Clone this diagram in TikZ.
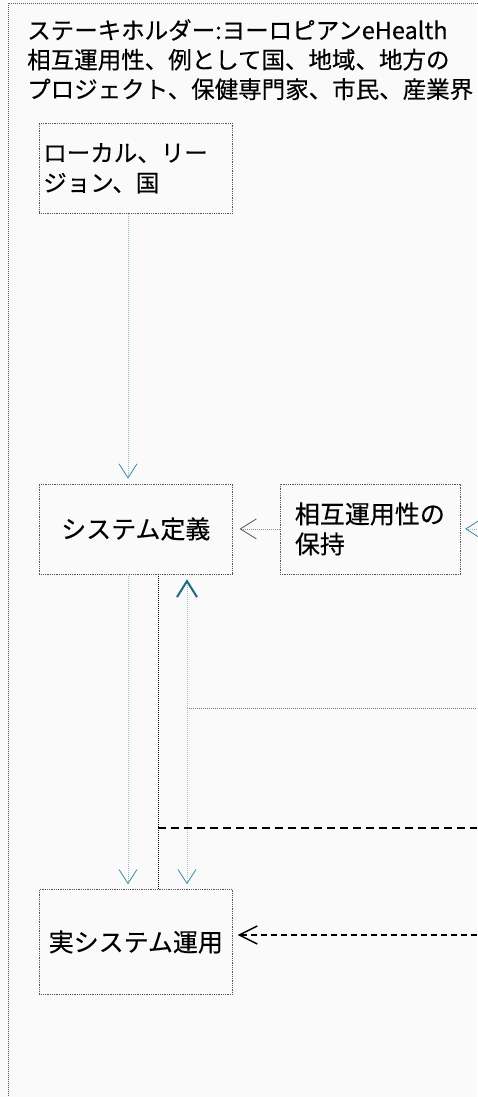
\documentclass[tikz,border=0pt]{standalone}
\usepackage{fontspec}
\setmainfont{Noto Sans CJK JP}[FakeBold=0.3]
\usetikzlibrary{arrows.meta, positioning, calc}
\definecolor{boxgray}{HTML}{555555}
\definecolor{linkblue}{HTML}{9DBFCB}
\definecolor{tipteal}{HTML}{3A8AA2}
\definecolor{darkteal}{HTML}{1E6A80}
\tikzstyle{block} = [rectangle, 
			draw = boxgray, 
			dash pattern = on 1pt off 0.8pt, 
			line width = 0.6pt, 
			minimum width = 193pt, 
			minimum height = 90pt, 
			inner sep = 4pt, 
			font = \fontsize{25}{30}\selectfont]
\tikzstyle{link} = [draw = linkblue, 
			dash pattern = on 1pt off 1pt, 
			line width = 0.6pt, 
			shorten > = 5pt, 
			-{Straight Barb[length=14pt, width=18pt, line width=0.8pt, color=tipteal]}]
\tikzstyle{uplink} = [link, -{Straight Barb[length=16pt, width=20pt, line width=2pt, color=darkteal]}]
\tikzstyle{graylink} = [draw = boxgray!70, 
			dash pattern = on 1pt off 1pt, 
			line width = 0.6pt, 
			shorten > = 7pt, 
			-{Straight Barb[length=16pt, width=20pt, line width=0.8pt, color=boxgray]}]
\tikzstyle{grayline} = [draw = boxgray!80, dash pattern = on 1pt off 1pt, line width = 0.7pt]
\tikzstyle{blackdot} = [draw = black, dash pattern = on 1pt off 1pt, line width = 0.9pt]
\tikzstyle{bigdash} = [draw = black, dash pattern = on 8pt off 5pt, line width = 2pt]
\tikzstyle{dasharrow} = [draw = black, dash pattern = on 6pt off 4pt, line width = 1.5pt, 
			shorten > = 5pt, 
			-{Straight Barb[length=18pt, width=18pt, line width=1.5pt]}]

\begin{document}
\begin{tikzpicture}[node distance = 3em, auto]
	\useasboundingbox (0,0) rectangle (477pt,-1097pt);
	\fill[black!2] (0,0) rectangle (477pt,-1097pt);
	\draw[grayline, draw = boxgray] (8pt,-1100pt) |- (480pt,-3pt);
	\node [anchor=north west, align=left, inner sep=0pt, 
		font=\fontsize{23.5}{29.5}\selectfont] (stakeholder) at (27pt,-19pt)
		{ステーキホルダー:ヨーロピアンeHealth\\相互運用性、例として国、地域、地方の\\プロジェクト、保健専門家、市民、産業界};
	\node [block, anchor=north west, text width=185pt, align=left, 
		font=\fontsize{23.5}{30}\selectfont] (local) at (39pt,-123pt) {ローカル、リー\\ジョン、国};
	\node [block, below=270pt of local] (sysdef) {システム定義};
	\node [block, right=47pt of sysdef, minimum width=180pt, align=left] (keep) {相互運用性の\\保持};
	\node [block, below=315pt of sysdef, minimum height=105pt] (realop) {実システム運用};
	% lanes
	\coordinate (laneA) at (128pt,0);
	\coordinate (laneB) at (158pt,0);
	\coordinate (laneC) at (187pt,0);
	\coordinate (edgeR) at (477pt,0);
	\coordinate (feedback) at (187pt,-708pt);
	\coordinate (control) at (158pt,-828pt);
	\coordinate (opin) at (477pt,-935pt);
	\path [link] (local.south -| laneA) -- (sysdef.north -| laneA);
	\path [graylink] (keep.west) -- (sysdef.east);
	\path [link] (keep.east -| edgeR) -- (keep.east);
	\path [link] (sysdef.south -| laneA) -- (realop.north -| laneA);
	\draw [blackdot] (sysdef.south -| laneB) -- (realop.north -| laneB);
	\draw [grayline] (feedback) -- (feedback -| edgeR);
	\path [uplink] (feedback) -- (sysdef.south -| laneC);
	\path [link] (feedback) -- (realop.north -| laneC);
	\draw [bigdash] (control) -- (control -| edgeR);
	\path [dasharrow] (opin) -- (opin -| realop.east);
\end{tikzpicture}
\end{document}
